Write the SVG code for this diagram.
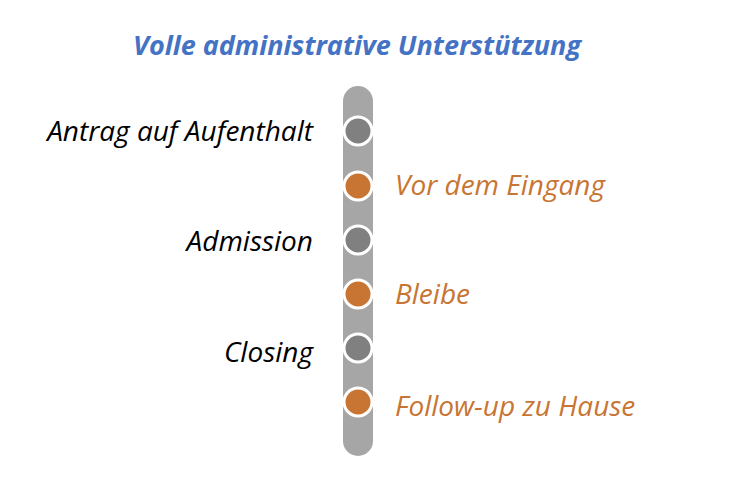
<svg xmlns="http://www.w3.org/2000/svg" width="737" height="495" viewBox="0 0 737 495">
<style>
.t{font-family:"Open Sans","Liberation Sans",sans-serif;font-style:italic;font-size:28px}
.l{fill:#000;text-anchor:end}
.r{fill:#C87533}
.g{fill:#808080;stroke:#fff;stroke-width:3}
.o{fill:#C87533;stroke:#fff;stroke-width:3}
</style>
<rect width="737" height="495" fill="#fff"/>
<text x="357" y="55" text-anchor="middle" class="t" style="font-weight:bold;fill:#4472C4;font-size:27px">Volle administrative Unterstützung</text>
<g id="connectors"><rect x="343" y="86" width="30" height="370" rx="15" fill="#A6A6A6"/></g>
<g id="n1"><circle class="g" cx="358" cy="131" r="14"/><text class="t l" x="313" y="141">Antrag auf Aufenthalt</text></g>
<g id="n2"><circle class="o" cx="358" cy="186" r="14"/><text class="t r" x="395" y="195">Vor dem Eingang</text></g>
<g id="n3"><circle class="g" cx="358" cy="240" r="14"/><text class="t l" x="313" y="251">Admission</text></g>
<g id="n4"><circle class="o" cx="358" cy="294" r="14"/><text class="t r" x="395" y="304">Bleibe</text></g>
<g id="n5"><circle class="g" cx="358" cy="348" r="14"/><text class="t l" x="313" y="362">Closing</text></g>
<g id="n6"><circle class="o" cx="358" cy="402" r="14"/><text class="t r" x="395" y="416">Follow-up zu Hause</text></g>
</svg>
